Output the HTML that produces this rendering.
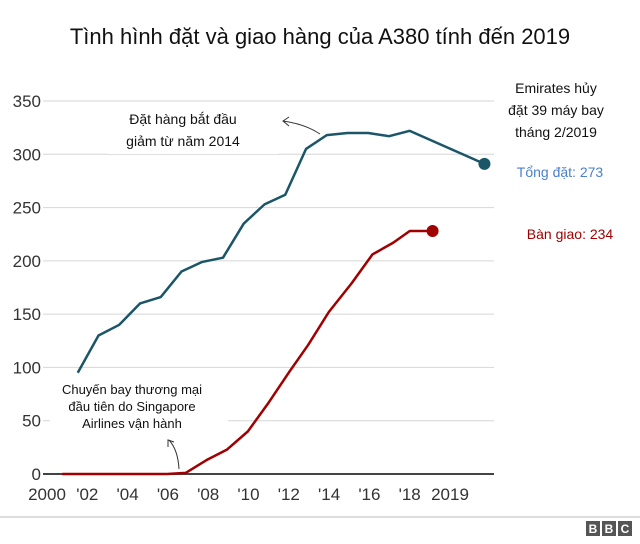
<!DOCTYPE html>
<html><head><meta charset="utf-8">
<style>
body{margin:0;background:#fff;width:640px;height:539px;overflow:hidden;font-family:"Liberation Sans",sans-serif;}
svg text{font-family:"Liberation Sans","DejaVu Sans",sans-serif;}
</style></head>
<body>
<svg id="chart" width="640" height="539" viewBox="0 0 640 539" xmlns="http://www.w3.org/2000/svg">
<text x="320" y="44" text-anchor="middle" font-size="22" fill="#111">Tình hình đặt và giao hàng của A380 tính đến 2019</text>
<g id="grid"></g>
<g id="yticks"></g>
<g id="xticks"></g>
<g id="series"></g>
<g>
<rect x="108" y="104" width="170" height="50" fill="#fff"/>
<text font-size="14" fill="#111" text-anchor="middle"><tspan x="183" y="124">Đặt hàng bắt đầu</tspan><tspan x="183" y="146">giảm từ năm 2014</tspan></text>
<path d="M320,134 Q305,124 283,121 M289,117 L283,121 L289,126" fill="none" stroke="#333" stroke-width="1"/>
<rect x="50" y="378" width="178" height="56" fill="#fff"/>
<text font-size="13" fill="#111" text-anchor="middle"><tspan x="132" y="394">Chuyến bay thương mại</tspan><tspan x="132" y="411">đầu tiên do Singapore</tspan><tspan x="132" y="428">Airlines vận hành</tspan></text>
<path d="M179,469 Q178,450 169,440 M168,447 L168,440 L174,442" fill="none" stroke="#333" stroke-width="1"/>
<text font-size="14" fill="#111" text-anchor="middle"><tspan x="556" y="93">Emirates hủy</tspan><tspan x="556" y="115">đặt 39 máy bay</tspan><tspan x="556" y="137">tháng 2/2019</tspan></text>
<text x="560" y="177" text-anchor="middle" font-size="14" fill="#4a7fd0">Tổng đặt: 273</text>
<text x="570" y="239" text-anchor="middle" font-size="14" fill="#a00000">Bàn giao: 234</text>
</g>
<line x1="0" y1="517" x2="640" y2="517" stroke="#bbb" stroke-width="1"/>
<g>
<rect x="586" y="521" width="14" height="15" fill="#555"/><rect x="602" y="521" width="14" height="15" fill="#555"/><rect x="618" y="521" width="14" height="15" fill="#555"/>
<text x="593" y="533" text-anchor="middle" font-size="12" font-weight="bold" fill="#fff">B</text>
<text x="609" y="533" text-anchor="middle" font-size="12" font-weight="bold" fill="#fff">B</text>
<text x="625" y="533" text-anchor="middle" font-size="12" font-weight="bold" fill="#fff">C</text>
</g>
</svg>
<script>
const yTicks=[0,50,100,150,200,250,300,350];
const xTickLabels=["2000","'02","'04","'06","'08","'10","'12","'14","'16","'18","2019"];
const orderYears=[2001,2002,2003,2004,2005,2006,2007,2008,2009,2010,2011,2012,2013,2014,2015,2016,2017,2020.6];
const orderValues=[95,130,140,160,166,190,199,203,235,253,262,305,318,320,320,317,322,291];
const deliveryYears=[2000.25,2005.3,2006.2,2007.2,2008.2,2009.2,2010.2,2011.2,2012.1,2013.1,2014.2,2015.2,2016.2,2017.0,2018.1];
const deliveryValues=[0,0,1,13,23,40,67,96,121,152,179,206,217,228,228];
const NS="http://www.w3.org/2000/svg";
function x(yr){return 57+(yr-2000)*20.75;}
function y(v){return 474-v*1.0657;}
function labelX(i){return 47+i*40.3;}
function mk(tag,attrs,parent){const e=document.createElementNS(NS,tag);for(const k in attrs)e.setAttribute(k,attrs[k]);parent.appendChild(e);return e;}
const grid=document.getElementById('grid'),yt=document.getElementById('yticks'),xt=document.getElementById('xticks'),ser=document.getElementById('series');
yTicks.forEach(v=>{
 const l=mk('line',{x1:43,x2:494,y1:y(v),y2:y(v),stroke:v===0?'#444':'#d6d6d6','stroke-width':v===0?2:1},grid);
 
 
 const t=mk('text',{x:41,y:y(v)+6,'text-anchor':'end','font-size':17,fill:'#333'},yt);
 t.textContent=v;
 
 
});
xTickLabels.forEach((lab,i)=>{
 const t=mk('text',{x:labelX(i),y:500,'text-anchor':'middle','font-size':17,fill:'#333'},xt);
 t.textContent=lab;
 
 
});
function line(xs,vs,color,name){
 const p=mk('polyline',{points:xs.map((a,i)=>x(a)+','+y(vs[i])).join(' '),fill:'none',stroke:color,'stroke-width':2.5,'stroke-linejoin':'round'},ser);
 
 
 const n=xs.length-1;
 const c=mk('circle',{cx:x(xs[n]),cy:y(vs[n]),r:6,fill:color},ser);
 
 
}
line(deliveryYears,deliveryValues,'#a00000','deliveries');
line(orderYears,orderValues,'#1b5568','orders');
</script>
</body></html>
